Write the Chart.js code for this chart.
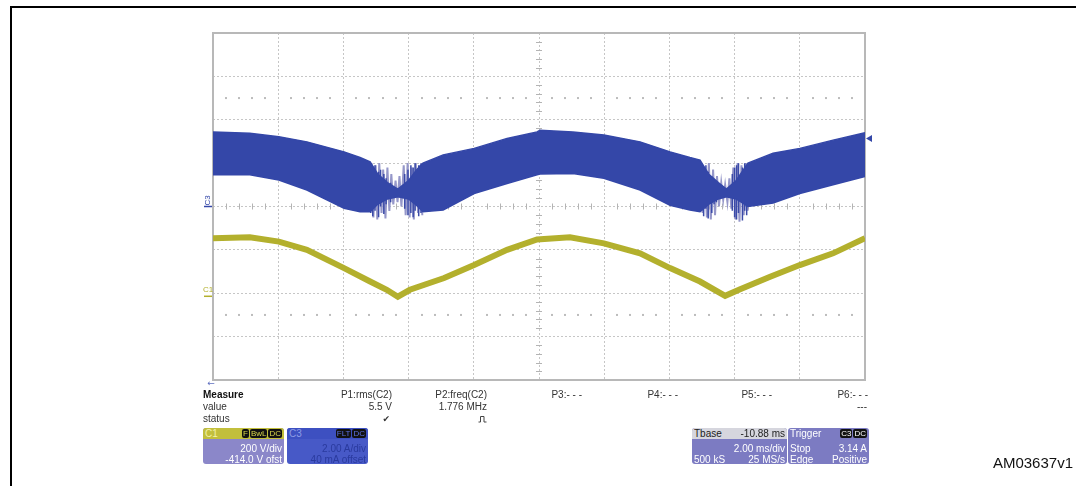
<!DOCTYPE html>
<html>
<head>
<meta charset="utf-8">
<script src="https://cdn.jsdelivr.net/npm/chart.js@4/dist/chart.umd.min.js"></script>
<style>
  body { margin:0; background:#fff; font-family:"Liberation Sans", Arial, sans-serif; }
  #wrap { position:relative; width:1076px; height:486px; overflow:hidden; }
  #frame { position:absolute; left:10px; top:6px; width:1100px; height:600px; border-top:2px solid #000; border-left:2px solid #000; }
  canvas { position:absolute; left:0; top:0; }
  .t { position:absolute; font-size:10px; line-height:12px; color:#333; white-space:nowrap; }
  .b { font-weight:bold; color:#111; }
  .box { position:absolute; top:428px; height:36px; border-radius:3px; overflow:hidden; font-size:10px; color:#fff; }
  .hdr { height:11px; line-height:11px; padding:0 2px; position:relative; }
  .row { height:11px; line-height:11px; padding:0 2px; position:relative; }
  .row1 { margin-top:3.5px; }
  .rt { position:absolute; right:2px; top:0; }
  .bd { display:inline-block; background:#111; border-radius:2px; font-size:8px; line-height:9px; padding:0 1px; margin-left:1px; vertical-align:top; margin-top:1px; }
  #am { position:absolute; right:3px; top:455px; font-size:15px; line-height:15px; color:#111; }
</style>
</head>
<body>
<div id="wrap">
  <div id="frame"></div>
  <canvas id="scope" width="1076" height="486"></canvas>

  <div class="t b" style="left:203px;top:389px">Measure</div>
  <div class="t" style="left:203px;top:401px">value</div>
  <div class="t" style="left:203px;top:413px">status</div>

  <div class="t" style="right:684px;top:389px">P1:rms(C2)</div>
  <div class="t" style="right:684px;top:401px">5.5 V</div>
  <div class="t" style="right:686px;top:413px;font-family:'DejaVu Sans';font-size:9px">✔</div>

  <div class="t" style="right:589px;top:389px">P2:freq(C2)</div>
  <div class="t" style="right:589px;top:401px">1.776 MHz</div>
  <svg style="position:absolute;left:478px;top:415px" width="9" height="8"><path d="M0.5 7 H2.5 V1.5 H6 V7 H8.5" fill="none" stroke="#444" stroke-width="1"/></svg>

  <div class="t" style="right:494px;top:389px">P3:- - -</div>
  <div class="t" style="right:398px;top:389px">P4:- - -</div>
  <div class="t" style="right:304px;top:389px">P5:- - -</div>
  <div class="t" style="right:208px;top:389px">P6:- - -</div>
  <div class="t" style="right:209px;top:401px">---</div>

  <div class="box" style="left:203px;width:81px;background:#8b87c9">
    <div class="hdr" style="background:#c2bf3c;color:#f3f2a8">C1<span class="rt"><span class="bd" style="color:#d8d64a">F</span><span class="bd" style="color:#d8d64a">BwL</span><span class="bd" style="color:#d8d64a">DC</span></span></div>
    <div class="row row1"><span class="rt">200 V/div</span></div>
    <div class="row"><span class="rt">-414.0 V ofst</span></div>
  </div>

  <div class="box" style="left:287px;width:81px;background:#4759c7;color:#2a3a9e">
    <div class="hdr" style="background:#3d50c1;color:#8d9ce6">C3<span class="rt"><span class="bd" style="color:#5a6fe0">FLT</span><span class="bd" style="color:#5a6fe0">DC</span></span></div>
    <div class="row row1"><span class="rt">2.00 A/div</span></div>
    <div class="row"><span class="rt">40 mA offset</span></div>
  </div>

  <div class="box" style="left:692px;width:95px;background:#7c7bc2">
    <div class="hdr" style="background:#d6d6de;color:#222">Tbase<span class="rt">-10.88 ms</span></div>
    <div class="row row1"><span class="rt">2.00 ms/div</span></div>
    <div class="row">500 kS<span class="rt">25 MS/s</span></div>
  </div>

  <div class="box" style="left:788px;width:81px;background:#7c7bc2">
    <div class="hdr">Trigger<span class="rt"><span class="bd">C3</span><span class="bd">DC</span></span></div>
    <div class="row row1">Stop<span class="rt">3.14 A</span></div>
    <div class="row">Edge<span class="rt">Positive</span></div>
  </div>

  <div id="am">AM03637v1</div>
</div>

<script>
// time in ms (2 ms/div, 10 div)
const c3Time  = [0, 1.13, 2.02, 2.88, 4.02, 4.51, 4.82, 5.05, 5.35, 5.67, 6.0, 6.25, 6.44, 7.06, 8.01, 9.02, 9.94,
                 10.03, 11.04, 11.99, 13.1, 14.02, 14.63, 14.94, 15.2, 15.5, 15.75, 16.05, 16.41, 17.18, 18.0, 19.02, 20];
// C3 current envelope, A (2 A/div)
const c3Upper = [3.44, 3.38, 3.22, 2.98, 2.52, 2.26, 2.06, 1.5, 1.1, 0.8, 1.2, 1.7, 2.0, 2.38, 2.68, 3.14, 3.44,
                 3.52, 3.44, 3.30, 2.98, 2.52, 2.26, 2.14, 1.5, 1.1, 0.8, 1.2, 2.0, 2.46, 2.68, 3.06, 3.40];
const c3Lower = [1.46, 1.46, 1.22, 0.76, -0.08, -0.24, -0.24, 0.1, 0.35, 0.45, 0.35, 0.05, -0.24, -0.16, 0.60, 1.06, 1.46,
                 1.50, 1.52, 1.30, 0.76, 0.06, -0.16, -0.24, 0.1, 0.35, 0.45, 0.35, 0.0, 0.16, 0.60, 1.0, 1.38];

// light ringing near the valleys
const spike1Time  = [4.86, 4.92, 4.99, 5.04, 5.10, 5.17, 5.22, 5.29, 5.35, 5.41, 5.47, 5.53, 5.60, 5.66, 5.72, 5.78,
                     5.85, 5.91, 5.97, 6.03, 6.10, 6.16, 6.22, 6.29, 6.35, 6.42];
const spike1Value = [2.0, -0.5, 1.9, -0.6, 2.0, -0.3, 1.7, -0.55, 1.8, -0.2, 1.5, 0.1, 1.2, 0.2, 1.4, 0.0,
                     1.9, -0.4, 2.0, -0.5, 1.8, -0.6, 2.0, -0.3, 1.9, -0.4];
const spike2Time  = [14.96, 15.02, 15.08, 15.15, 15.21, 15.27, 15.34, 15.40, 15.46, 15.52, 15.59, 15.65, 15.71, 15.78,
                     15.84, 15.90, 15.96, 16.03, 16.09, 16.15, 16.21, 16.28, 16.34, 16.40];
const spike2Value = [1.9, -0.3, 1.8, -0.5, 2.0, -0.6, 1.7, -0.4, 1.4, 0.0, 1.1, 0.3, 1.0, 0.2,
                     1.3, -0.1, 1.8, -0.6, 2.0, -0.7, 1.9, -0.4, 2.0, -0.2];
// darker single spikes in the valleys
const darkTime = [4.84, 4.90, 4.97, 5.08, 5.14, 5.24, 5.31, 5.45, 5.88, 5.98, 6.07, 6.14, 6.20, 6.31, 6.38,
                  14.98, 15.05, 15.12, 15.19, 15.30, 15.37, 15.44, 15.93, 16.00, 16.06, 16.12, 16.24, 16.31, 16.37];
const darkLow  = [-0.3, -0.45, -0.2, -0.5, 0.0, -0.35, 0.1, 0.2, -0.1, -0.4, -0.3, -0.5, -0.2, -0.45, -0.3,
                  -0.2, -0.45, -0.1, -0.55, -0.3, 0.1, 0.2, -0.2, -0.5, -0.6, -0.3, -0.65, -0.2, -0.4];
const darkHigh = [2.0, 1.8, 1.9, 1.6, 1.7, 1.5, 1.3, 1.1, 1.5, 1.7, 1.9, 1.8, 2.0, 1.9, 2.0,
                  1.9, 1.8, 1.9, 1.6, 1.4, 1.2, 1.0, 1.5, 1.8, 1.9, 2.0, 1.8, 2.0, 1.9];

// C1 rectified line voltage, V (200 V/div, -414 V offset)
const c1Time  = [0, 1.13, 2.02, 2.88, 4.02, 4.82, 5.33, 5.67, 6.04, 7.09, 8.01, 9.02, 9.94,
                 10.95, 11.99, 13.1, 14.02, 14.94, 15.71, 16.17, 17.09, 18.0, 19.02, 20];
const c1Value = [268, 272, 252, 214, 130, 68, 30, -2, 30, 84, 144, 214, 262,
                 272, 244, 198, 130, 68, 2, 32, 90, 144, 198, 268];

const trigLevel = 3.14;
const c1Offset = -414, c1PerDiv = 200, c3PerDiv = 2;

const pts = (xs, ys) => xs.map((x, i) => ({ x, y: ys[i] }));
const bars = (xs, lo, hi) => xs.flatMap((x, i) => [{ x, y: lo[i] }, { x, y: hi[i] }, { x, y: null }]);

const blue = "#3447a8", yellow = "#b3b02d";

const decor = {
  id: "decor",
  beforeDatasetsDraw(chart) {
    const { ctx, chartArea: a, scales: { x, y } } = chart;
    ctx.save();
    // small ticks on centre lines
    ctx.strokeStyle = "#b4b4b4"; ctx.lineWidth = 1;
    const yc = y.getPixelForValue(0), xc = x.getPixelForValue(10);
    for (let k = 1; k < 50; k++) {
      if (k % 5 === 0) continue;
      const px = Math.round(x.getPixelForValue(k * 0.4)) + 0.5;
      ctx.beginPath(); ctx.moveTo(px, yc - 3); ctx.lineTo(px, yc + 3); ctx.stroke();
    }
    for (let k = -19; k < 20; k++) {
      if (k % 5 === 0) continue;
      const py = Math.round(y.getPixelForValue(k * 0.4)) + 0.5;
      ctx.beginPath(); ctx.moveTo(xc - 3, py); ctx.lineTo(xc + 3, py); ctx.stroke();
    }
    // dotted reference rows
    ctx.fillStyle = "#bcbcbc";
    [5, -5].forEach(v => {
      const py = y.getPixelForValue(v);
      for (let k = 1; k < 50; k++) {
        if (k % 5 === 0) continue;
        ctx.fillRect(Math.round(x.getPixelForValue(k * 0.4)) - 1, py - 1, 2, 2);
      }
    });
    // outer frame
    ctx.strokeStyle = "#b8b8b8"; ctx.lineWidth = 2;
    ctx.strokeRect(a.left, a.top, a.right - a.left, a.bottom - a.top);
    ctx.restore();
  },
  afterDraw(chart) {
    const { ctx, chartArea: a, scales: { y, y1 } } = chart;
    ctx.save();
    // C3 ground marker
    const g3 = y.getPixelForValue(0);
    ctx.strokeStyle = blue; ctx.lineWidth = 1.5;
    ctx.beginPath(); ctx.moveTo(a.left - 9, g3); ctx.lineTo(a.left - 1, g3); ctx.stroke();
    ctx.fillStyle = blue; ctx.font = "8px 'Liberation Sans'";
    ctx.translate(a.left - 5, g3 - 6); ctx.rotate(-Math.PI / 2);
    ctx.textAlign = "center"; ctx.textBaseline = "middle";
    ctx.fillText("C3", 0, 0);
    ctx.setTransform(1, 0, 0, 1, 0, 0);
    // C1 ground marker
    const g1 = y1.getPixelForValue(0);
    ctx.strokeStyle = yellow;
    ctx.beginPath(); ctx.moveTo(a.left - 9, g1); ctx.lineTo(a.left - 1, g1); ctx.stroke();
    ctx.fillStyle = yellow; ctx.textAlign = "center"; ctx.textBaseline = "alphabetic";
    ctx.fillText("C1", a.left - 5, g1 - 4);
    // trigger level
    const tl = y.getPixelForValue(trigLevel);
    ctx.fillStyle = blue;
    ctx.beginPath(); ctx.moveTo(a.right + 1, tl); ctx.lineTo(a.right + 7, tl - 3.5); ctx.lineTo(a.right + 7, tl + 3.5); ctx.closePath(); ctx.fill();
    // trigger position arrow
    ctx.fillStyle = "#6070c0"; ctx.font = "9px 'DejaVu Sans'"; ctx.textAlign = "center"; ctx.textBaseline = "middle";
    ctx.fillText("←", a.left - 2, a.bottom + 4);
    ctx.restore();
  }
};

new Chart(document.getElementById("scope"), {
  type: "line",
  data: {
    datasets: [
      { data: pts(spike1Time, spike1Value), yAxisID: "y", borderColor: "#9597c9", borderWidth: 2, pointRadius: 0, fill: false, order: 4 },
      { data: pts(spike2Time, spike2Value), yAxisID: "y", borderColor: "#9597c9", borderWidth: 2, pointRadius: 0, fill: false, order: 4 },
      { data: bars(darkTime, darkLow, darkHigh), yAxisID: "y", borderColor: "#3a4aa8", borderWidth: 1.5, pointRadius: 0, fill: false, spanGaps: false, order: 3 },
      { data: pts(c3Time, c3Upper), yAxisID: "y", borderColor: blue, backgroundColor: blue, borderWidth: 1.5, pointRadius: 0, fill: "+1", order: 2 },
      { data: pts(c3Time, c3Lower), yAxisID: "y", borderColor: blue, borderWidth: 1.5, pointRadius: 0, fill: false, order: 2 },
      { data: pts(c1Time, c1Value), yAxisID: "y1", borderColor: yellow, borderWidth: 6, pointRadius: 0, fill: false, order: 1 }
    ]
  },
  options: {
    responsive: false,
    animation: false,
    devicePixelRatio: 1,
    layout: { padding: { left: 213, right: 211, top: 33, bottom: 106 } },
    plugins: { legend: { display: false }, tooltip: { enabled: false } },
    elements: { line: { tension: 0 } },
    scales: {
      x: {
        type: "linear", min: 0, max: 20,
        ticks: { display: false, stepSize: 2 },
        grid: { color: "#c6c6c6", drawTicks: false, lineWidth: 1 },
        border: { display: false, dash: [2, 2] }
      },
      y: {
        min: -4 * c3PerDiv, max: 4 * c3PerDiv,
        ticks: { display: false, stepSize: c3PerDiv },
        grid: { color: "#c6c6c6", drawTicks: false, lineWidth: 1 },
        border: { display: false, dash: [2, 2] }
      },
      y1: {
        display: false,
        min: -c1Offset - 4 * c1PerDiv, max: -c1Offset + 4 * c1PerDiv
      }
    }
  },
  plugins: [decor]
});
</script>
</body>
</html>
